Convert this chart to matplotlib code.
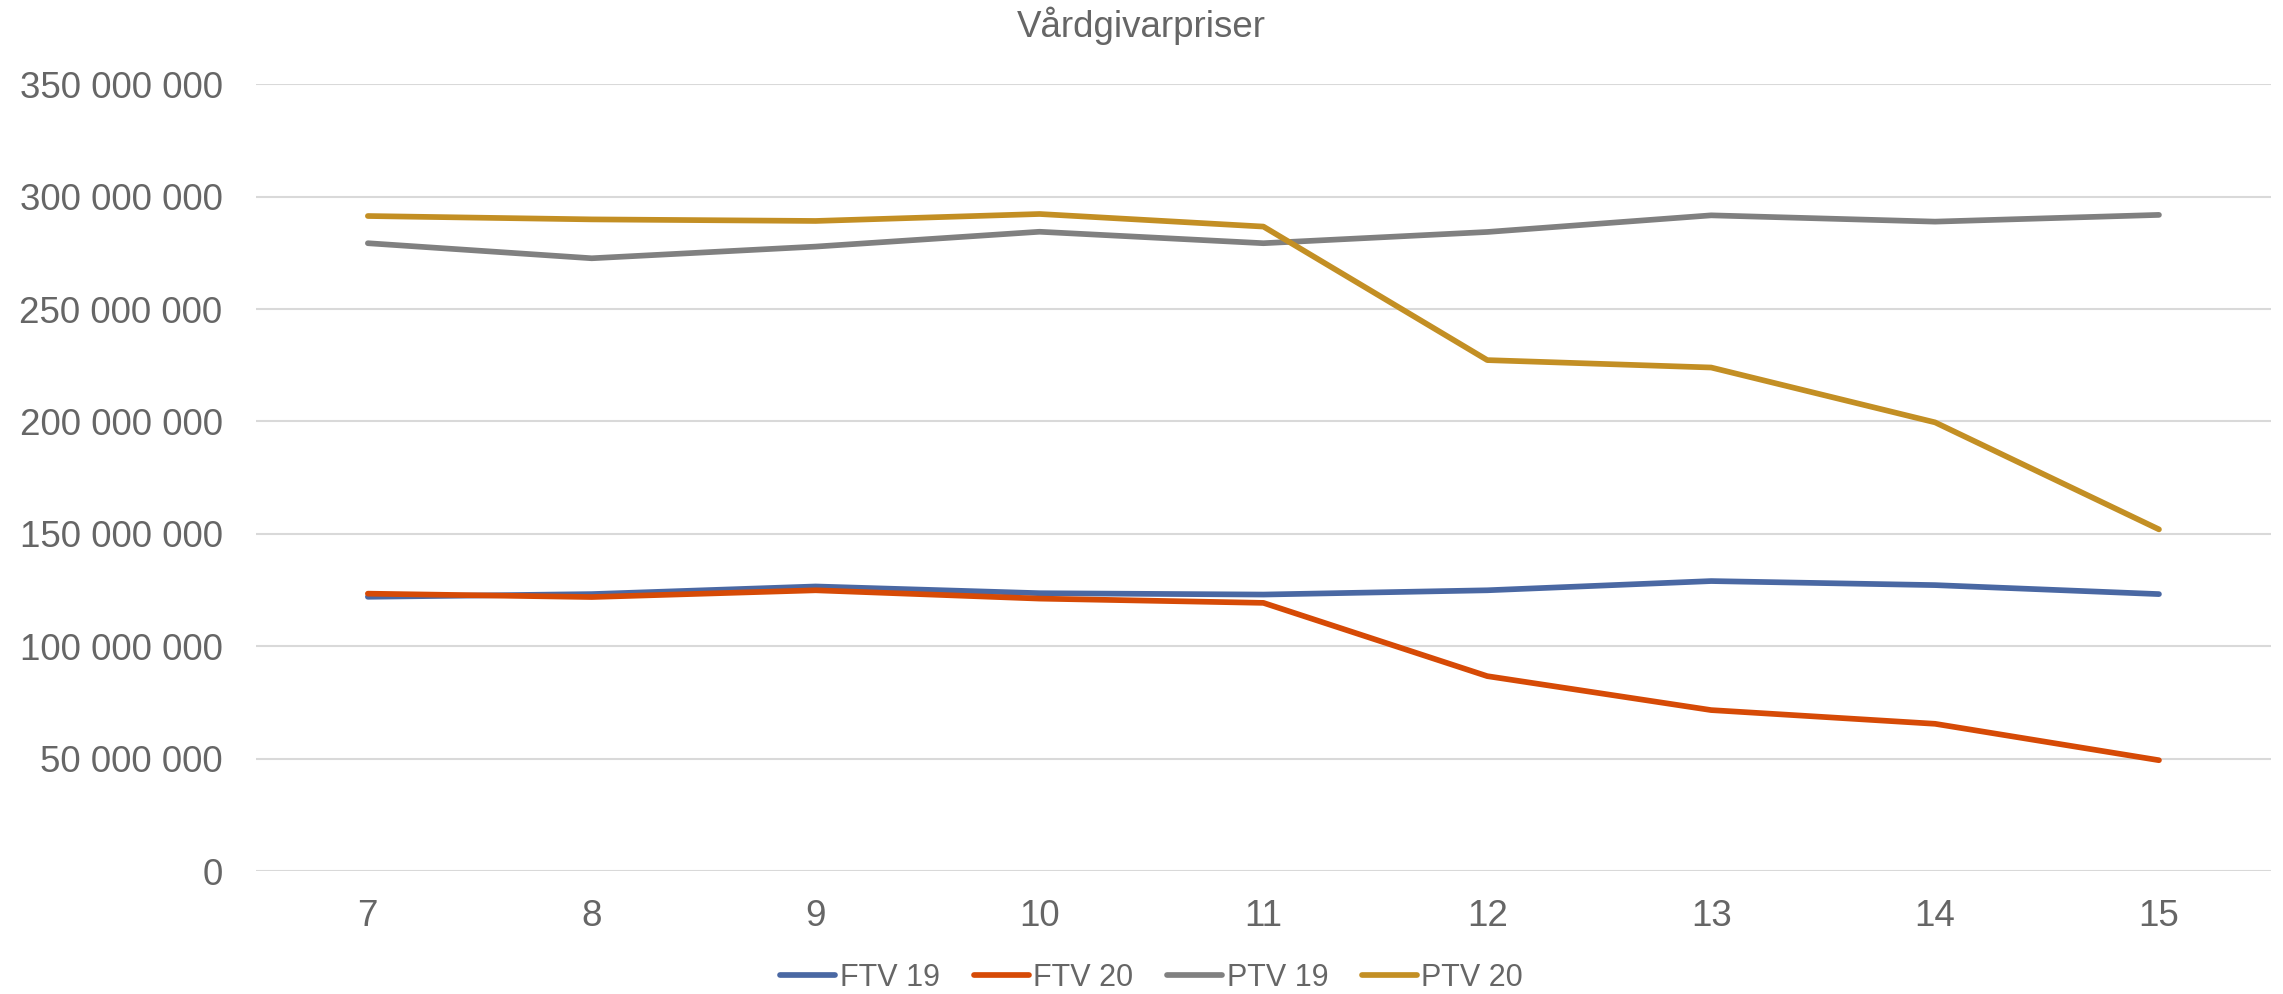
import matplotlib.pyplot as plt
from matplotlib.ticker import FuncFormatter

plt.rcParams['font.family'] = ['Liberation Sans', 'DejaVu Sans']

weeks = ['7', '8', '9', '10', '11', '12', '13', '14', '15']
ftv19 = [122.0e6, 123.2e6, 126.6e6, 123.6e6, 123.0e6, 124.9e6, 129.0e6, 127.2e6, 123.2e6]
ftv20 = [123.4e6, 121.9e6, 124.9e6, 121.2e6, 119.3e6, 86.7e6, 71.6e6, 65.5e6, 49.3e6]
ptv19 = [279.3e6, 272.6e6, 277.8e6, 284.4e6, 279.3e6, 284.3e6, 291.7e6, 288.9e6, 291.9e6]
ptv20 = [291.4e6, 289.9e6, 289.2e6, 292.3e6, 286.7e6, 227.3e6, 224.0e6, 199.6e6, 152.0e6]

series = [
    ('FTV 19', ftv19, '#4a68a3'),
    ('FTV 20', ftv20, '#d64a06'),
    ('PTV 19', ptv19, '#808080'),
    ('PTV 20', ptv20, '#c38f24'),
]

text_color = '#666666'

fig = plt.figure(figsize=(22.83, 9.94), dpi=100)
ax = fig.add_axes([0.1121, 0.1237, 0.8826, 0.7915])

x = range(len(weeks))
for label, values, color in series:
    ax.plot(x, values, color=color, linewidth=4.1, label=label,
            solid_capstyle='round', solid_joinstyle='round')

ax.set_xlim(-0.5, len(weeks) - 0.5)
ax.set_ylim(0, 350e6)
ax.set_yticks([i * 50e6 for i in range(8)])
ax.yaxis.set_major_formatter(FuncFormatter(lambda v, p: f'{int(v):,}'.replace(',', ' ')))
ax.set_xticks(list(x))
ax.set_xticklabels(weeks)

ax.grid(axis='y', color='#d9d9d9', linewidth=1.5)
ax.set_axisbelow(True)
for side in ['top', 'right', 'left', 'bottom']:
    ax.spines[side].set_visible(False)
ax.tick_params(axis='both', length=0, labelsize=26.5, labelcolor=text_color)
ax.tick_params(axis='y', pad=24)
ax.tick_params(axis='x', pad=20)

# title is centred on the whole chart, not the plot area
fig.text(0.5, 1 - 37 / 994, 'Vårdgivarpriser', fontsize=26.5, color=text_color,
         ha='center', va='baseline')

fig.legend(loc='center', bbox_to_anchor=(0.5045, 0.016), ncol=4, frameon=False,
           fontsize=22, labelcolor=text_color, handlelength=1.8, handletextpad=0.15,
           columnspacing=1.1)

fig.savefig('out.png', dpi=100)
